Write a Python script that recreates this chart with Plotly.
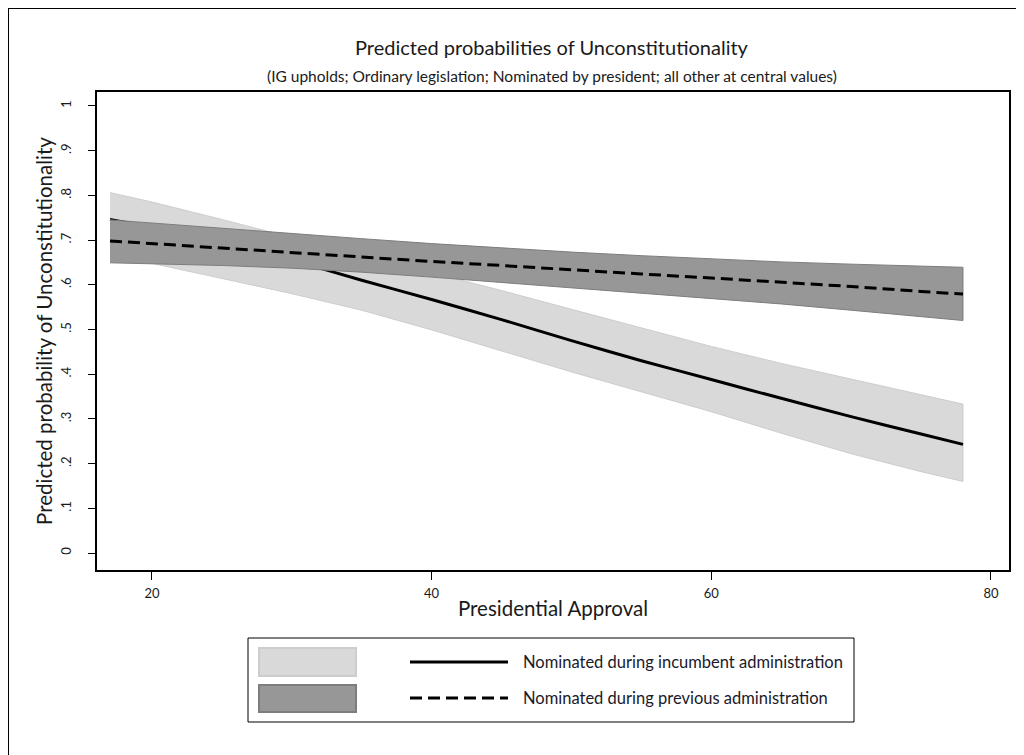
import plotly.graph_objects as go

# ---- data ----
approval = [17, 20, 25, 30, 35, 40, 45, 50, 55, 60, 65, 70, 75, 78]

incumbent_mean = [0.746, 0.728, 0.695, 0.655, 0.610, 0.567, 0.522, 0.475, 0.430, 0.388, 0.346, 0.305, 0.266, 0.243]
incumbent_hi = [0.806, 0.785, 0.746, 0.706, 0.665, 0.627, 0.587, 0.545, 0.503, 0.462, 0.424, 0.389, 0.354, 0.333]
incumbent_lo = [0.668, 0.647, 0.614, 0.580, 0.543, 0.499, 0.452, 0.405, 0.360, 0.316, 0.268, 0.222, 0.182, 0.160]

previous_mean = [0.698, 0.692, 0.682, 0.672, 0.661, 0.652, 0.643, 0.633, 0.624, 0.615, 0.606, 0.596, 0.585, 0.579]
previous_hi = [0.745, 0.738, 0.726, 0.713, 0.703, 0.692, 0.682, 0.673, 0.665, 0.658, 0.651, 0.646, 0.642, 0.639]
previous_lo = [0.649, 0.647, 0.643, 0.637, 0.628, 0.617, 0.606, 0.594, 0.582, 0.569, 0.557, 0.543, 0.529, 0.520]

x_ticks = [20, 40, 60, 80]
y_ticks = [0, 0.1, 0.2, 0.3, 0.4, 0.5, 0.6, 0.7, 0.8, 0.9, 1]
y_tick_labels = ["0", ".1", ".2", ".3", ".4", ".5", ".6", ".7", ".8", ".9", "1"]

legend_labels = ["Nominated during incumbent administration",
                 "Nominated during previous administration"]

# ---- styling ----
FONT = "Lato"
LIGHT_FILL = "#d9d9d9"
LIGHT_EDGE = "#cdcdcd"
DARK_FILL = "#979797"
DARK_EDGE = "#7d7d7d"

OFF = 8  # page body margin in the browser
W, H = 1024 - OFF, 755 - OFF
# plot box in page pixels (reference)
L, R, T, B = 97, 1009, 92, 570
PW, PH = R - L, B - T


def px(xp):
    return (xp - L) / PW


def py(yp):
    return (B - yp) / PH


fig = go.Figure()

# light CI band (incumbent)
fig.add_trace(go.Scatter(
    x=approval + approval[::-1],
    y=incumbent_hi + incumbent_lo[::-1],
    fill="toself", fillcolor=LIGHT_FILL,
    line=dict(color=LIGHT_EDGE, width=1),
    mode="lines", hoverinfo="skip", showlegend=False))

# incumbent line (drawn under the dark band)
fig.add_trace(go.Scatter(
    x=approval, y=incumbent_mean, mode="lines",
    line=dict(color="black", width=3, shape="spline", smoothing=0.6), showlegend=False))

# dark CI band (previous)
fig.add_trace(go.Scatter(
    x=approval + approval[::-1],
    y=previous_hi + previous_lo[::-1],
    fill="toself", fillcolor=DARK_FILL,
    line=dict(color=DARK_EDGE, width=1),
    mode="lines", hoverinfo="skip", showlegend=False))

# previous line (dashed)
fig.add_trace(go.Scatter(
    x=approval, y=previous_mean, mode="lines",
    line=dict(color="black", width=3, dash="12px,6px"), showlegend=False))

shapes = []
annotations = []

# outer frame (left and top edges visible)
shapes.append(dict(type="rect", xref="paper", yref="paper",
                   x0=px(8), x1=px(1060), y0=py(800), y1=py(8),
                   line=dict(color="black", width=2), fillcolor="rgba(0,0,0,0)",
                   layer="above"))

# legend box
shapes.append(dict(type="rect", xref="paper", yref="paper",
                   x0=px(248), x1=px(854), y0=py(722), y1=py(638),
                   line=dict(color="black", width=1), fillcolor="white",
                   layer="above"))
# legend swatches
shapes.append(dict(type="rect", xref="paper", yref="paper",
                   x0=px(259), x1=px(356), y0=py(676), y1=py(648),
                   line=dict(color=LIGHT_EDGE, width=2), fillcolor=LIGHT_FILL,
                   layer="above"))
shapes.append(dict(type="rect", xref="paper", yref="paper",
                   x0=px(259), x1=px(356), y0=py(712), y1=py(685),
                   line=dict(color=DARK_EDGE, width=2), fillcolor=DARK_FILL,
                   layer="above"))
# legend line samples
shapes.append(dict(type="line", xref="paper", yref="paper",
                   x0=px(410), x1=px(508), y0=py(662), y1=py(662),
                   line=dict(color="black", width=3), layer="above"))
shapes.append(dict(type="line", xref="paper", yref="paper",
                   x0=px(410), x1=px(508), y0=py(698), y1=py(698),
                   line=dict(color="black", width=3, dash="12px,6px"), layer="above"))

for label, yp in zip(legend_labels, [662, 698]):
    annotations.append(dict(text=label, xref="paper", yref="paper",
                            x=px(521), y=py(yp), xanchor="left", yanchor="middle",
                            showarrow=False,
                            font=dict(family=FONT, size=16.5, color="#1a1a2a")))

# titles
annotations.append(dict(text="Predicted probabilities of Unconstitutionality",
                        xref="paper", yref="paper", x=px(552), y=py(47),
                        xanchor="center", yanchor="middle", showarrow=False,
                        font=dict(family=FONT, size=20, color="#1a1a1a")))
annotations.append(dict(text="(IG upholds; Ordinary legislation; Nominated by president; all other at central values)",
                        xref="paper", yref="paper", x=px(552), y=py(76),
                        xanchor="center", yanchor="middle", showarrow=False,
                        font=dict(family=FONT, size=15.5, color="#1a1a1a")))

fig.update_layout(
    width=W, height=H,
    margin=dict(l=L - OFF, r=W - (R - OFF), t=T - OFF, b=H - (B - OFF), pad=0),
    paper_bgcolor="white", plot_bgcolor="white",
    showlegend=False,
    shapes=shapes, annotations=annotations,
    font=dict(family=FONT, color="#1a1a1a"),
)

fig.update_xaxes(
    range=[16.07, 81.29],
    tickmode="array", tickvals=x_ticks, ticktext=[str(v) for v in x_ticks],
    ticks="outside", ticklen=8, tickwidth=1, tickcolor="black",
    ticklabelstandoff=3,
    showline=True, linecolor="black", linewidth=1.5, mirror=True,
    showgrid=False, zeroline=False,
    tickfont=dict(family=FONT, size=13, color="#1a1a1a"),
    title=dict(text="Presidential Approval", standoff=1,
               font=dict(family=FONT, size=20.5, color="#1a1a1a")),
)

fig.update_yaxes(
    range=[-0.038, 1.031],
    tickmode="array", tickvals=y_ticks, ticktext=y_tick_labels,
    tickangle=-90,
    ticks="outside", ticklen=7, tickwidth=1, tickcolor="black",
    ticklabelstandoff=12,
    showline=True, linecolor="black", linewidth=1.5, mirror=True,
    showgrid=False, zeroline=False,
    tickfont=dict(family=FONT, size=13, color="#1a1a1a"),
    title=dict(text="Predicted probability of Unconstitutionality", standoff=0,
               font=dict(family=FONT, size=20.5, color="#1a1a1a")),
)

fig.write_html("out.html")
